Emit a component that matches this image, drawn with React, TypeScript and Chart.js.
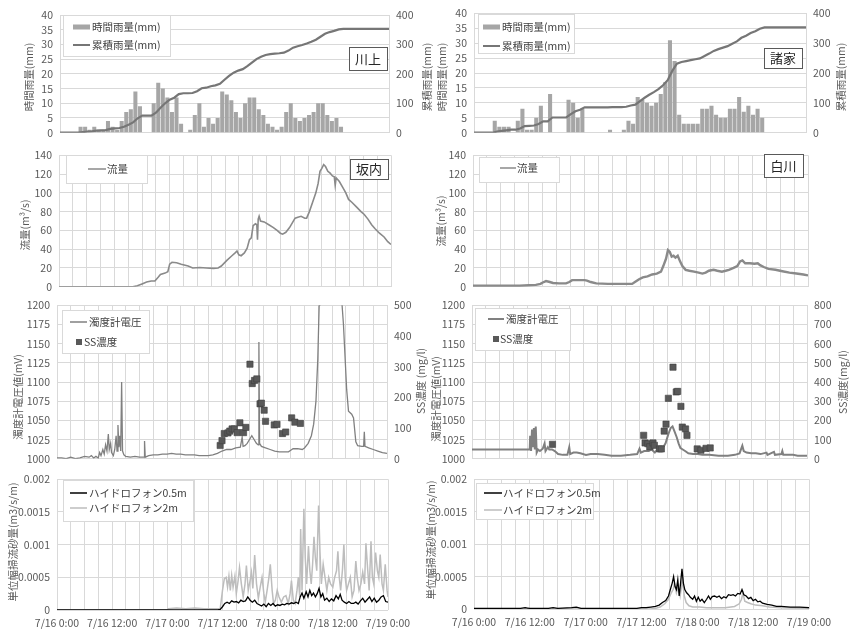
import React, { useEffect, useRef } from 'react';
import { Chart, registerables } from 'chart.js';
Chart.register(...registerables);

// ===================== DATA =====================
const xTickLabels = ['7/16 0:00', '7/16 12:00', '7/17 0:00', '7/17 12:00', '7/18 0:00', '7/18 12:00', '7/19 0:00'];
const hydroTickLabels = ['0', '0.0005', '0.001', '0.0015', '0.002'];

// hourly rainfall (mm), one value per hour slot starting 7/16 0:00
const kawakamiRain = [0,0,0,0,2,2,1,2,1,1, 4,2,1,4,7,8,14,9,0,0, 10,17,15,12,7,12,3,0,1,6, 10,2,5,3,5,14,13,11,7,5, 10,12,12,8,6,3,2,1,2,7, 10,5,4,5,6,7,10,10,6,4, 5,2,0,0,0,0,0,0,0,0, 0,0];
// cumulative rainfall (mm) at each hour boundary 0..72
const kawakamiCum = [0,0,0,0,0,2,4,5,7,8, 9,13,15,16,20,27,35,49,58,58, 58,68,85,100,112,119,131,134,134,135, 141,151,153,158,161,166,180,193,204,211, 216,226,238,250,258,264,267,269,270,272, 279,289,294,298,303,309,316,326,336,342, 346,351,353,353,353,353,353,353,353,353, 353,353,353];

const moroieRain = [0,0,0,0,4,2,2,2,0,4, 8,1,1,5,9,0,13,0,0,0, 11,10,5,8,0,0,0,0,0,1, 0,0,1,4,3,12,11,10,9,10, 13,17,31,24,6,3,3,3,3,8, 8,9,6,5,5,8,8,12,7,9, 6,8,5,0,0,0,0,0,0,0, 0,0];
const moroieCum = [0,0,0,0,0,4,6,8,10,10, 14,22,23,24,29,38,38,51,51,51, 51,62,72,77,85,85,85,85,85,85, 86,86,86,87,91,94,106,117,127,136, 146,159,176,207,231,237,240,243,246,249, 257,265,274,280,285,290,298,306,318,325, 334,340,348,353,353,353,353,353,353,353, 353,353,353];

// discharge (m3/s): hours since 7/16 0:00, values
const leftFlowT = [0,16,17,18,19,20,20.8,21.5,22,23, 23.6,24,24.5,25.5,26.5,28,29,30.5,32,33.5, 34.5,35.2,36.4,37.5,38.2,38.6,39,39.5,40.2,40.8, 41.3,41.7,42.1,42.6,42.9,43.05,43.2,43.4,43.7,44.5, 45.5,46.5,47.3,48,48.5,49.2,50,50.6,51.2,51.8, 52.5,53.3,53.7,54.3,55,55.7,56.2,56.6,57,57.4, 57.8,58.3,58.8,59.3,59.7,59.9,60.1,60.8,61.5,62.2, 62.8,63.5,64.5,65.5,66.2,67,67.8,68.5,69.5,70.5, 71.3,72];
const leftFlowV = [0,0,1,3,5,6,6,10,13,14.5, 16,24,26,25.5,24,22,20,20.5,20,19.5, 20,22,28,33,36,38,34,33,36,41, 50,52,65,67,66,50,72,75,70,69, 66,63,60,57,56,58,63,68,73,74, 75,73,73,80,90,100,110,123,126,130, 128,123,121,118,117,108,116,112,106,100, 93,90,85,80,77,72,66,62,57,53, 48,45];

const rightFlowT = [0,10,12,13.5,14.5,15,15.7,16.5,17.2,18.5, 20,20.7,21.3,22.5,24,24.5,25.3,26.5,29,32, 34.2,34.8,35.7,36.5,37.5,38.5,39.5,40.4,40.9,41.5, 41.9,42.3,42.7,43.1,43.5,44,44.5,45,45.7,46.5, 47.5,48.5,49.3,50,50.7,51.7,52.5,53.5,54.3,55, 56,56.8,57.4,57.9,58.5,59.5,60.5,61.2,61.7,62.5, 63.5,65,66.5,68,69.5,71,72];
const rightFlowV = [1,1,1.5,2,3,4.5,6,5,4,3.5, 3.5,5,7,7,7,6.5,5,3.5,3,3, 3,5,8,10,11,13,14,16,22,30, 39,37,32,33,31,33,27,22,18,17, 16,15,14,15,17,18,17,16,17,18, 20,22,27,28,25,25,24.5,25,23,21, 19,18,16.5,15,14,13,12];

// turbidity-meter voltage (mV)
const leftTurbT = [0,1,2,3,4,5,6,7,7.5,8, 8.5,9,9.3,9.6,10,10.3,10.6,10.9,11.2,11.4, 11.7,11.9,12.3,12.6,12.9,13.1,13.3,13.5,13.7,13.9, 14.1,14.3,14.6,15,16,17,18,19,19.1,19.25, 20,21,22,23,24,25,26,27,28,29, 30,31,32,33,34,35,36,37,38,39, 40,40.4,40.6,41,41.5,42,42.5,43,43.5,43.9, 44.05,44.2,44.6,45.5,46.5,47.5,48.5,49.5,50.5,51, 51.5,52.5,53.5,54,54.8,55.5,56,56.5,56.9,57.2, 57.3,62.1,62.2,62.5,63.2,63.6,64.3,64.7,65.2,65.6, 66.5,66.9,67.05,67.2,68,69,70,71,72];
const leftTurbV = [1001,1001,1000,1002,1000,1001,1003,1002,1004,1001, 1003,1001,1008,1004,1012,1006,1018,1010,1032,1012, 1020,1008,1004,1012,1030,1010,1044,1015,1030,1010, 1100,1010,1005,1003,1002,1003,1002,1002,1023,1002, 1004,1005,1005,1006,1006,1007,1006,1006,1005,1005, 1005,1004,1004,1004,1005,1007,1010,1012,1012,1014, 1015,1028,1016,1017,1020,1025,1030,1025,1020,1018, 1152,1020,1016,1014,1012,1010,1009,1009,1009,1011, 1013,1013,1012,1014,1020,1030,1045,1075,1130,1200, 1220,1220,1200,1175,1090,1062,1058,1053,1022,1017, 1016,1016,1035,1016,1014,1012,1010,1008,1007];

const rightTurbT = [0,12.4,12.5,12.7,12.9,13.1,13.3,13.5,13.7,13.9, 14.2,14.6,15.2,15.6,15.8,16.3,16.6,17.2,17.8,18.5, 19.5,20.5,20.9,21.1,21.8,22.5,23.3,24.5,25.5,27, 28.5,30,32,34,35.5,36,36.3,37,38,38.6, 39.3,39.8,40.3,41,41.6,42.2,42.7,43.1,43.5,44, 44.4,44.8,45.3,45.8,46.5,47.5,48.5,49.5,51,53, 55,56.5,57.5,58.1,58.4,59,60,61,62,63.3, 63.5,64.9,65.1,66.5,66.7,66.9,68,69,70,71, 72];
const rightTurbV = [1012,1012,1030,1010,1038,1015,1040,1012,1042,1008, 1012,1010,1013,1020,1010,1015,1012,1012,1010,1006, 1005,1005,1015,1006,1008,1008,1007,1005,1006,1006, 1005,1004,1004,1005,1006,1013,1008,1010,1010,1012, 1008,1012,1010,1014,1020,1032,1040,1042,1036,1028, 1020,1014,1012,1010,1007,1006,1006,1005,1005,1004, 1004,1005,1007,1017,1010,1008,1007,1007,1006,1008, 1005,1009,1005,1006,1010,1005,1005,1005,1004,1004, 1004];

// SS concentration (mg/l)
const leftSST = [35.6,36.0,36.5,37.3,37.7,38.2,38.7,39.3,39.9,40.7,41.2,42.1,42.6,43.1,43.6,44.3,44.6,45.2,45.5,47.4,48.0,49.2,49.9,51.2,51.9,53.1];
const leftSSV = [43,59,82,84,90,97,97,85,117,85,102,308,245,255,260,179,181,158,122,110,112,82,87,133,119,115];
const rightSST = [17.3,36.9,37.2,37.8,38.2,38.9,39.2,40.3,40.7,41.3,41.7,42.2,43.2,43.9,44.2,44.9,45.2,45.9,46.2,48.4,49.2,50.3,51.2];
const rightSSV = [75,122,82,78,62,82,70,51,51,144,180,315,477,348,351,273,165,155,122,51,44,54,56];

// bedload per unit width (m3/s/m), hydrophones 0.5 m and 2 m
const leftHp05T = [0,35,35.5,36,36.5,37,37.5,38,38.5,39, 39.5,40,40.5,41,41.5,42,42.5,43,43.5,44, 44.5,45,45.5,46,46.5,47,47.5,48,48.5,49, 49.5,50,50.5,51,51.5,52,52.5,52.9,53.3,53.7, 54.2,54.6,55,55.4,55.8,56.2,56.6,57,57.4,57.8, 58.2,58.7,59.2,59.7,60.2,60.7,61.2,61.6,62,62.5, 63,63.5,64,64.5,65,65.5,66,66.5,67,67.5, 68,68.5,69,69.5,70,70.5,71,71.5,72];
const leftHp05V = [0,0,0.00001,0.00005,0.0001,0.00012,0.0001,0.00014,0.00012,0.00013, 0.00011,0.00015,0.00013,0.00014,0.0002,0.00015,0.00012,0.00015,0.0001,0.00008, 0.00006,0.00009,0.00005,0.0001,0.00007,0.0001,0.00006,0.00008,0.00007,0.00009, 0.00008,0.0001,0.00009,0.00011,0.0001,0.00012,0.0001,0.0002,0.00026,0.00018, 0.00028,0.0002,0.0003,0.00022,0.00026,0.0002,0.00025,0.00033,0.0002,0.00025, 0.00015,0.00018,0.00013,0.00017,0.00014,0.00022,0.00017,0.00024,0.00015,0.00012, 0.0001,0.00013,0.0001,0.0001,0.00012,0.00009,0.00014,0.00018,0.00012,0.00016, 0.0002,0.00013,0.00018,0.00012,0.00015,0.0002,0.00022,0.00013,0.00012];

const leftHp2T = [0,24,24.2,26,28,30,32,34,35.5,36, 36.4,36.8,37.1,37.4,37.7,38,38.3,38.7,39,39.4, 39.7,40.1,40.5,40.9,41.2,41.6,42,42.3,42.6,43, 43.4,43.8,44.2,44.6,45,45.3,45.7,46.1,46.4,46.8, 47.1,47.5,47.9,48.3,48.8,49.3,49.8,50.3,50.7,51, 51.4,51.8,52.2,52.5,52.8,53,53.3,53.7,54,54.3, 54.7,55,55.3,55.6,55.9,56.2,56.5,56.9,57.2,57.5, 57.9,58.3,58.7,59.1,59.5,60,60.4,60.8,61.1,61.4, 61.7,62.1,62.4,62.7,63,63.4,63.8,64.2,64.6,65, 65.3,65.7,66.1,66.5,66.9,67.2,67.6,67.9,68.3,68.6, 68.9,69.3,69.7,70,70.3,70.7,71,71.4,71.8,72];
const leftHp2V = [0,0,0.00002,0.00003,0.00002,0.00003,0.00002,0.00002,0.00002,0.0003, 0.00048,0.0005,0.00035,0.00052,0.0003,0.00053,0.00035,0.00052,0.00025,0.00045, 0.00065,0.0004,0.0002,0.0004,0.00068,0.0003,0.00045,0.00058,0.00033,0.00084, 0.0004,0.00018,0.00035,0.0005,0.00025,0.00012,0.0003,0.0005,0.0007,0.0003, 0.0001,0.00015,0.0003,0.0002,0.00012,0.0002,0.00022,0.0001,0.00025,0.00045, 0.00015,0.0001,0.0003,0.0005,0.0002,0.00124,0.0003,0.00155,0.0008,0.0004, 0.00098,0.0006,0.0004,0.0007,0.00112,0.0008,0.0006,0.0016,0.0009,0.0004, 0.0007,0.0005,0.0003,0.0005,0.0004,0.00035,0.0005,0.0006,0.0009,0.0005, 0.0003,0.00062,0.001,0.0005,0.0003,0.0004,0.0005,0.0002,0.0003,0.00075, 0.0005,0.0003,0.0004,0.00058,0.0004,0.00102,0.0006,0.0003,0.00105,0.0005, 0.0004,0.00088,0.0006,0.0005,0.00085,0.0004,0.0003,0.0007,0.0003,0.0002];

const rightHp05T = [0,10,11,11.5,12,16,17,18,21,22, 23,30,35,36,37,38,39,39.8,40.5,41.2, 41.8,42.2,42.6,42.9,43.2,43.5,43.8,44.1,44.4,44.7, 45,45.3,45.7,46.1,46.5,47,47.4,47.8,48.2,48.6, 49,49.5,50,50.4,50.8,51.2,51.7,52.2,52.7,53.2, 53.7,54.2,54.7,55.2,55.7,56.2,56.7,57.2,57.6,58, 58.5,59,59.5,60,60.5,61,61.5,62,63,64, 65,66,68,70,72];
const rightHp05V = [0.00001,0.00001,0.00002,0.000015,0.00001,0.00001,0.00002,0.00001,0.00002,0.00003, 0.00001,0.00001,0.00001,0.00002,0.00002,0.00003,0.00004,0.00006,0.0001,0.00013, 0.0002,0.0003,0.0004,0.0005,0.00035,0.0003,0.00045,0.0002,0.0004,0.00062, 0.0004,0.0003,0.00025,0.00022,0.00018,0.00015,0.0002,0.00012,0.00018,0.00012, 0.00015,0.0001,0.00015,0.0002,0.00015,0.00019,0.0002,0.00018,0.0002,0.00016, 0.00019,0.00017,0.00022,0.00021,0.00022,0.0002,0.00024,0.00023,0.0003,0.00022, 0.0002,0.00016,0.00018,0.00013,0.00015,0.00011,0.00012,0.00009,0.00007,0.00006, 0.00004,0.00004,0.00003,0.00003,0.00002];

const rightHp2T = [0,38,39,40,41,41.8,42.4,42.8,43.1,43.5, 43.9,44.3,44.8,45.2,45.6,46.2,47,48.5,50,52, 54,56,57,57.5,57.8,58.2,58.8,59.5,60.5,62, 63.5,66,72];
const rightHp2V = [0,0,0.00001,0.00003,0.00008,0.00015,0.00025,0.0003,0.0004,0.00025, 0.00035,0.0002,0.00045,0.0002,0.0001,0.00005,0.00003,0.00003,0.00002,0.00002, 0.00002,0.00004,0.00008,0.00015,0.00025,0.00012,0.0001,0.00008,0.00006,0.00005, 0.00003,0.00002,0.00001];

// ===================== STYLE =====================
const FONT = "'Noto Sans CJK JP', 'Noto Sans', sans-serif";
const GRID = '#d9d9d9';
const TICK_COLOR = '#595959';
const TEXT = '#404040';
const BAR = '#a6a6a6';
const CUM = '#767676';
const FLOW = '#8a8a8a';
const TURB = '#808080';
const SS = '#595959';
const HP05 = '#000000';
const HP2 = '#bdbdbd';

const pts = (t: number[], v: number[]) => t.map((x, i) => ({ x, y: v[i] }));
const hourBars = (v: number[]) => v.map((y, i) => ({ x: i + 0.5, y }));
const hourLine = (v: number[]) => v.map((y, i) => ({ x: i, y }));

type Item = { kind: 'bar' | 'line' | 'point'; s1: number; s2: number; y: number; tx: number; text: string; color: string; width?: number };
type Deco = {
  titles: { text: string; x: number; y: number }[];
  legend?: { x1: number; y1: number; x2: number; y2: number; items: Item[] };
  station?: { text: string; x1: number; y1: number; x2: number; y2: number };
};

function decoPlugin(d: Deco, ox: number, oy: number) {
  return {
    id: 'deco',
    afterDraw(chart: any) {
      const ctx: CanvasRenderingContext2D = chart.ctx;
      ctx.save();
      ctx.textBaseline = 'middle';
      for (const t of d.titles) {
        ctx.save();
        ctx.translate(t.x - ox, t.y - oy);
        ctx.rotate(-Math.PI / 2);
        ctx.font = `10.5px ${FONT}`;
        ctx.fillStyle = TICK_COLOR;
        ctx.textAlign = 'center';
        ctx.fillText(t.text, 0, 0);
        ctx.restore();
      }
      if (d.legend) {
        const L = d.legend;
        ctx.fillStyle = '#ffffff';
        ctx.fillRect(L.x1 - ox, L.y1 - oy, L.x2 - L.x1, L.y2 - L.y1);
        ctx.strokeStyle = GRID;
        ctx.lineWidth = 1;
        ctx.strokeRect(L.x1 - ox + 0.5, L.y1 - oy + 0.5, L.x2 - L.x1, L.y2 - L.y1);
        for (const it of L.items) {
          if (it.kind === 'bar') {
            ctx.fillStyle = it.color;
            ctx.fillRect(it.s1 - ox, it.y - oy - 2.5, it.s2 - it.s1, 5);
          } else if (it.kind === 'line') {
            ctx.strokeStyle = it.color;
            ctx.lineWidth = it.width || 1.5;
            ctx.beginPath();
            ctx.moveTo(it.s1 - ox, it.y - oy);
            ctx.lineTo(it.s2 - ox, it.y - oy);
            ctx.stroke();
          } else {
            ctx.fillStyle = it.color;
            ctx.fillRect(it.s1 - ox - 3, it.y - oy - 3, 6, 6);
          }
          ctx.fillStyle = TEXT;
          ctx.font = `10.5px ${FONT}`;
          ctx.textAlign = 'left';
          ctx.fillText(it.text, it.tx - ox, it.y - oy);
        }
      }
      if (d.station) {
        const S = d.station;
        ctx.fillStyle = '#ffffff';
        ctx.fillRect(S.x1 - ox, S.y1 - oy, S.x2 - S.x1, S.y2 - S.y1);
        ctx.strokeStyle = '#595959';
        ctx.lineWidth = 1;
        ctx.strokeRect(S.x1 - ox + 0.5, S.y1 - oy + 0.5, S.x2 - S.x1, S.y2 - S.y1);
        ctx.fillStyle = '#262626';
        ctx.font = `13px ${FONT}`;
        ctx.textAlign = 'center';
        ctx.fillText(S.text, (S.x1 + S.x2) / 2 - ox, (S.y1 + S.y2) / 2 - oy + 0.5);
      }
      ctx.restore();
    },
  };
}

type Axis = { min: number; max: number; step: number; labels?: string[] };
interface PanelDef {
  canvas: { l: number; t: number; w: number; h: number };
  plot: { l: number; r: number; t: number; b: number };
  type: 'bar' | 'line';
  datasets: any[];
  y: Axis;
  y2?: Axis;
  xGrid: boolean;
  xLabels: boolean;
  deco: Deco;
}

const colL = { l: 0, w: 440 };
const colR = { l: 420, w: 436 };
const row1 = { t: 0, h: 146 };
const row2 = { t: 142, h: 158 };
const row3 = { t: 292, h: 180 };
const row4 = { t: 466, h: 164 };

const lineDs = (data: any[], color: string, width: number, axis = 'y') => ({
  type: 'line', data, yAxisID: axis, borderColor: color, borderWidth: width, pointRadius: 0, tension: 0, fill: false,
});
const ssDs = (data: any[]) => ({
  type: 'line', data, yAxisID: 'y2', showLine: false, pointStyle: 'rect', pointRadius: 4.4,
  backgroundColor: SS, borderColor: '#404040', borderWidth: 0.6,
});
const barDs = (data: any[]) => ({
  type: 'bar', data, yAxisID: 'y', backgroundColor: BAR, barPercentage: 0.88, categoryPercentage: 1,
});

const panels: PanelDef[] = [
  {
    canvas: { ...colL, ...row1 }, plot: { l: 60, r: 389, t: 15, b: 137 }, type: 'bar',
    datasets: [lineDs(hourLine(kawakamiCum), CUM, 2.2, 'y2'), barDs(hourBars(kawakamiRain))],
    y: { min: 0, max: 40, step: 5 }, y2: { min: 0, max: 400, step: 50 }, xGrid: false, xLabels: false,
    deco: {
      titles: [{ text: '時間雨量(mm)', x: 29, y: 77 }, { text: '累積雨量(mm)', x: 427, y: 77 }],
      legend: { x1: 63, y1: 15, x2: 170, y2: 56, items: [
        { kind: 'bar', s1: 73, s2: 90, y: 27, tx: 92, text: '時間雨量(mm)', color: BAR },
        { kind: 'line', s1: 73, s2: 90, y: 45, tx: 92, text: '累積雨量(mm)', color: CUM, width: 2 },
      ] },
      station: { text: '川上', x1: 349, y1: 47, x2: 387, y2: 70 },
    },
  },
  {
    canvas: { ...colR, ...row1 }, plot: { l: 474, r: 806, t: 13, b: 138 }, type: 'bar',
    datasets: [lineDs(hourLine(moroieCum), CUM, 2.2, 'y2'), barDs(hourBars(moroieRain))],
    y: { min: 0, max: 40, step: 5 }, y2: { min: 0, max: 400, step: 50 }, xGrid: false, xLabels: false,
    deco: {
      titles: [{ text: '時間雨量(mm)', x: 442, y: 77 }, { text: '累積雨量(mm)', x: 841, y: 77 }],
      legend: { x1: 478, y1: 14, x2: 574, y2: 53, items: [
        { kind: 'bar', s1: 483, s2: 500, y: 27, tx: 502, text: '時間雨量(mm)', color: BAR },
        { kind: 'line', s1: 483, s2: 500, y: 46, tx: 502, text: '累積雨量(mm)', color: CUM, width: 2 },
      ] },
      station: { text: '諸家', x1: 764, y1: 48, x2: 802, y2: 68 },
    },
  },
  {
    canvas: { ...colL, ...row2 }, plot: { l: 59, r: 391, t: 152, b: 291 }, type: 'line',
    datasets: [lineDs(pts(leftFlowT, leftFlowV), FLOW, 1.6)],
    y: { min: 0, max: 140, step: 20 }, xGrid: true, xLabels: false,
    deco: {
      titles: [{ text: '流量(m³/s)', x: 25, y: 225 }],
      legend: { x1: 66, y1: 155, x2: 147, y2: 183, items: [
        { kind: 'line', s1: 88, s2: 106, y: 169, tx: 107, text: '流量', color: FLOW, width: 1.5 },
      ] },
      station: { text: '坂内', x1: 350, y1: 159, x2: 388, y2: 179 },
    },
  },
  {
    canvas: { ...colR, ...row2 }, plot: { l: 473, r: 808, t: 149, b: 289 }, type: 'line',
    datasets: [lineDs(pts(rightFlowT, rightFlowV), FLOW, 2.4)],
    y: { min: 0, max: 140, step: 20 }, xGrid: true, xLabels: false,
    deco: {
      titles: [{ text: '流量(m³/s)', x: 441, y: 221 }],
      legend: { x1: 479, y1: 157, x2: 559, y2: 182, items: [
        { kind: 'line', s1: 500, s2: 516, y: 168, tx: 517, text: '流量', color: FLOW, width: 1.5 },
      ] },
      station: { text: '白川', x1: 764, y1: 154, x2: 803, y2: 177 },
    },
  },
  {
    canvas: { ...colL, ...row3 }, plot: { l: 57, r: 387, t: 300, b: 463 }, type: 'line',
    datasets: [ssDs(pts(leftSST, leftSSV)), lineDs(pts(leftTurbT, leftTurbV), TURB, 1.3)],
    y: { min: 1000, max: 1200, step: 25 }, y2: { min: 0, max: 500, step: 50 }, xGrid: true, xLabels: false,
    deco: {
      titles: [{ text: '濁度計電圧値(mV)', x: 18, y: 397 }, { text: 'SS濃度 (mg/l)', x: 421, y: 381 }],
      legend: { x1: 62, y1: 310, x2: 149, y2: 353, items: [
        { kind: 'line', s1: 70, s2: 87, y: 322, tx: 89, text: '濁度計電圧', color: TURB, width: 1.5 },
        { kind: 'point', s1: 79, s2: 79, y: 342, tx: 84, text: 'SS濃度', color: SS },
      ] },
    },
  },
  {
    canvas: { ...colR, ...row3 }, plot: { l: 472, r: 807, t: 299, b: 463 }, type: 'line',
    datasets: [ssDs(pts(rightSST, rightSSV)), lineDs(pts(rightTurbT, rightTurbV), TURB, 2)],
    y: { min: 1000, max: 1200, step: 25 }, y2: { min: 0, max: 800, step: 100 }, xGrid: true, xLabels: false,
    deco: {
      titles: [{ text: '濁度計電圧値(mV)', x: 436, y: 399 }, { text: 'SS濃度(mg/l)', x: 843, y: 382 }],
      legend: { x1: 475, y1: 308, x2: 570, y2: 350, items: [
        { kind: 'line', s1: 488, s2: 504, y: 319, tx: 506, text: '濁度計電圧', color: TURB, width: 2 },
        { kind: 'point', s1: 496, s2: 496, y: 339, tx: 500, text: 'SS濃度', color: SS },
      ] },
    },
  },
  {
    canvas: { ...colL, ...row4 }, plot: { l: 57, r: 388, t: 475, b: 610 }, type: 'line',
    datasets: [lineDs(pts(leftHp05T, leftHp05V), HP05, 1.3), lineDs(pts(leftHp2T, leftHp2V), HP2, 1.5)],
    y: { min: 0, max: 0.002, step: 0.0005, labels: hydroTickLabels }, xGrid: true, xLabels: true,
    deco: {
      titles: [{ text: '単位幅掃流砂量(m3/s/m)', x: 13, y: 542 }],
      legend: { x1: 63, y1: 480, x2: 193, y2: 521, items: [
        { kind: 'line', s1: 70, s2: 87, y: 493, tx: 89, text: 'ハイドロフォン0.5m', color: HP05, width: 1.5 },
        { kind: 'line', s1: 70, s2: 87, y: 508, tx: 89, text: 'ハイドロフォン2m', color: HP2, width: 1.5 },
      ] },
    },
  },
  {
    canvas: { ...colR, ...row4 }, plot: { l: 474, r: 809, t: 474, b: 609 }, type: 'line',
    datasets: [lineDs(pts(rightHp05T, rightHp05V), HP05, 1.3), lineDs(pts(rightHp2T, rightHp2V), HP2, 1.5)],
    y: { min: 0, max: 0.002, step: 0.0005, labels: hydroTickLabels }, xGrid: true, xLabels: true,
    deco: {
      titles: [{ text: '単位幅掃流砂量(m3/s/m)', x: 431, y: 540 }],
      legend: { x1: 476, y1: 483, x2: 593, y2: 519, items: [
        { kind: 'line', s1: 484, s2: 502, y: 493, tx: 503, text: 'ハイドロフォン0.5m', color: HP05, width: 1.5 },
        { kind: 'line', s1: 484, s2: 502, y: 510, tx: 503, text: 'ハイドロフォン2m', color: HP2, width: 1.5 },
      ] },
    },
  },
];

function makeConfig(p: PanelDef): any {
  const c = p.canvas, a = p.plot;
  const leftW = a.l - c.l;
  const rightW = c.l + c.w - a.r;
  const topPad = a.t - c.t;
  const bottomH = c.t + c.h - a.b;
  const tickFont = { family: FONT, size: 10.5 };
  const yAxis = (ax: Axis, pos: 'left' | 'right', width: number, grid: boolean) => ({
    type: 'linear', position: pos, min: ax.min, max: ax.max,
    grid: { display: grid, color: GRID, lineWidth: 1, drawTicks: false },
    border: { display: true, color: GRID },
    ticks: {
      stepSize: ax.step, maxTicksLimit: 100, padding: 7, color: TICK_COLOR, font: tickFont,
      callback: (v: number, i: number) => (ax.labels ? ax.labels[i] : String(v)),
    },
    afterFit: (s: any) => { s.width = width; },
  });
  const scales: any = {
    x: {
      type: 'linear', min: 0, max: 72, offset: false,
      grid: { display: p.xGrid, color: GRID, lineWidth: 1, drawTicks: false, offset: false },
      border: { display: false },
      ticks: {
        display: p.xLabels, stepSize: 3, autoSkip: false, maxRotation: 0, minRotation: 0, maxTicksLimit: 100,
        padding: 7, color: TICK_COLOR, font: tickFont,
        callback: (v: number) => (v % 12 === 0 ? xTickLabels[v / 12] : ''),
      },
      afterFit: (s: any) => { s.height = bottomH; },
    },
    y: yAxis(p.y, 'left', leftW, true),
  };
  if (p.y2) scales.y2 = yAxis(p.y2, 'right', rightW, false);
  return {
    type: p.type,
    data: { datasets: p.datasets },
    options: {
      responsive: false,
      maintainAspectRatio: false,
      animation: false,
      events: [],
      layout: { padding: { left: 0, top: topPad, right: p.y2 ? 0 : rightW, bottom: 0 } },
      plugins: { legend: { display: false }, tooltip: { enabled: false } },
      scales,
    },
    plugins: [decoPlugin(p.deco, c.l, c.t)],
  };
}

function Panel({ p }: { p: PanelDef }) {
  const ref = useRef<HTMLCanvasElement>(null);
  useEffect(() => {
    const chart = new Chart(ref.current as HTMLCanvasElement, makeConfig(p));
    return () => chart.destroy();
  }, [p]);
  return (
    <canvas
      ref={ref}
      width={p.canvas.w}
      height={p.canvas.h}
      style={{ position: 'absolute', left: p.canvas.l, top: p.canvas.t, width: p.canvas.w, height: p.canvas.h }}
    />
  );
}

export default function App() {
  return (
    <div style={{ position: 'fixed', left: 0, top: 0, width: 856, height: 630, background: '#ffffff', overflow: 'hidden' }}>
      {panels.map((p, i) => <Panel key={i} p={p} />)}
    </div>
  );
}
